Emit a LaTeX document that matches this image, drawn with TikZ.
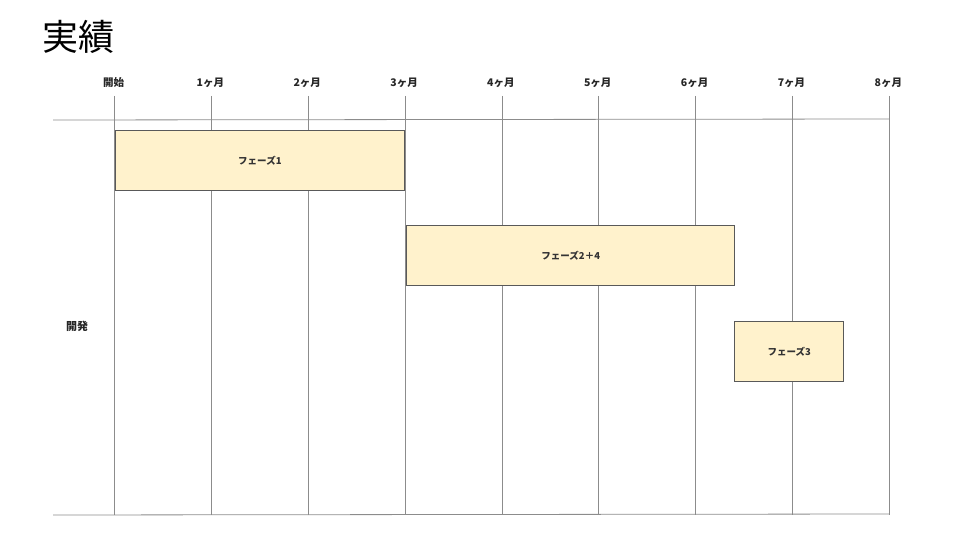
\documentclass[tikz,border=0pt]{standalone}
\usepackage{fontspec}
\setmainfont{Noto Sans CJK JP}
\definecolor{phasefill}{HTML}{FFF2CC}
\begin{document}
\begin{tikzpicture}[x=1pt,y=-1pt,
  grid/.style={draw=black!45,line width=0.8pt},
  phase/.style={draw=black!65,fill=phasefill,line width=0.9pt,anchor=north west,inner sep=0pt,font=\fontsize{9.5}{10}\selectfont\bfseries,text=black!80},
  mlabel/.style={font=\fontsize{10.5}{12}\selectfont\bfseries,text=black!85},
]
\useasboundingbox (0,0) rectangle (960,540);
\node[anchor=west,font=\fontsize{36}{38}\selectfont,inner sep=0pt] (title) at (42,37) {実績};
% month columns
\foreach \i/\lab in {0/開始,1/1ヶ月,2/2ヶ月,3/3ヶ月,4/4ヶ月,5/5ヶ月,6/6ヶ月,7/7ヶ月,8/8ヶ月}{
  \coordinate (top\i) at ({114.5+96.85*\i},96);
  \coordinate (bot\i) at ({114.5+96.85*\i},515);
  \node[mlabel] (m\i) at ({113.5+96.85*\i},83) {\lab};
  \draw[grid] (top\i) -- (bot\i);
}
\coordinate (hl1) at (53,120);
\coordinate (hr1) at (889,119);
\coordinate (hl2) at (53,515);
\coordinate (hr2) at (889,514);
\draw[grid] (hl1) -- (hr1);
\draw[grid] (hl2) -- (hr2);
\node[mlabel,font=\fontsize{11}{12}\selectfont\bfseries] (dev) at (77,326) {開発};
% phases
\node[phase,minimum width=289.5pt,minimum height=60pt] (p1) at (114.7,130.3) {フェーズ1};
\node[phase,minimum width=328pt,minimum height=60pt] (p2) at (406.3,225.3) {フェーズ2＋4};
\node[phase,minimum width=109pt,minimum height=60pt] (p3) at (734.3,321.3) {フェーズ3};
\end{tikzpicture}
\end{document}
